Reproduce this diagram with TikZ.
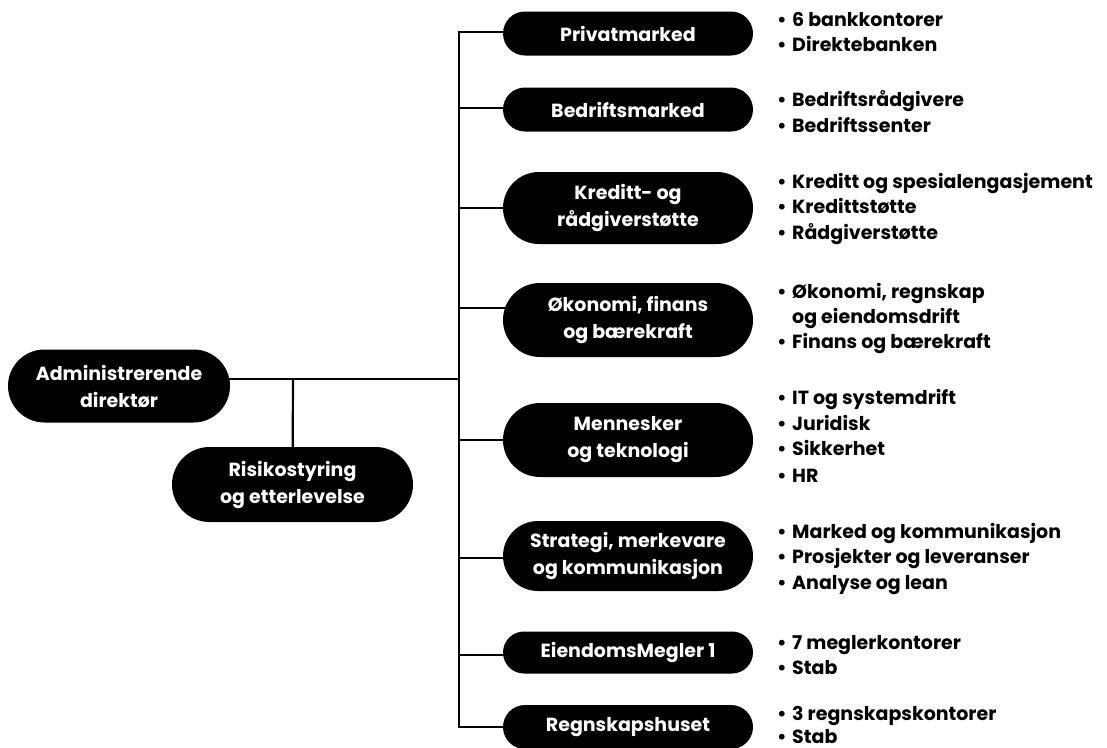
\documentclass[tikz,border=0pt]{standalone}
\usepackage{fontspec}
\setmainfont{Poppins}
\usetikzlibrary{backgrounds}
\newcommand\blitem[3]{\node[bul] (#1) at (777,#2) {\makebox[15pt][l]{•}#3};}
\begin{document}
\begin{tikzpicture}[x=1pt,y=-1pt,
  conn/.style={line width=2.2pt,draw=black,line join=miter},
  unit/.style={fill=black,text=white,align=center,inner sep=0pt,
    font=\fontsize{19}{27}\selectfont\bfseries},
  one/.style={unit,minimum width=250pt,minimum height=44pt,rounded corners=22pt},
  two/.style={unit,minimum width=250pt,minimum height=72pt,rounded corners=36pt},
  bul/.style={anchor=base west,inner sep=0pt,font=\fontsize{19}{25}\selectfont\bfseries}]
\useasboundingbox (0,0) rectangle (1107,747);
% left side
\node[unit,minimum width=222pt,minimum height=73pt,rounded corners=36.5pt] (admin) at (119,386) {Administrerende\\direktør};
\node[unit,minimum width=241pt,minimum height=75pt,rounded corners=37.5pt] (risk) at (292.5,484.5) {Risikostyring\\og etterlevelse};
% right side units
\node[one] (priv) at (628,33.5) {Privatmarked};
\node[one] (bedr) at (628,109.5) {Bedriftsmarked};
\node[two] (kred) at (628,208) {Kreditt- og\\rådgiverstøtte};
\node[two,minimum height=74pt,rounded corners=37pt] (okon) at (628,320) {Økonomi, finans\\og bærekraft};
\node[two,minimum height=74pt,rounded corners=37pt] (menn) at (628,440) {Mennesker\\og teknologi};
\node[two,minimum height=70pt,rounded corners=35pt] (strat) at (628,556) {Strategi, merkevare\\og kommunikasjon};
\node[one,minimum height=42pt,rounded corners=21pt] (eien) at (628,652.5) {EiendomsMegler 1};
\node[one] (regn) at (628,727) {Regnskapshuset};
% trunk coordinates
\coordinate (t1) at (459,32);
\coordinate (t2) at (459,108);
\coordinate (t3) at (459,208);
\coordinate (t4) at (459,308);
\coordinate (ta) at (459,379);
\coordinate (t5) at (459,440);
\coordinate (t6) at (459,558);
\coordinate (t7) at (459,655);
\coordinate (t8) at (459,727);
\coordinate (rj) at (293,379);
\begin{scope}[on background layer]
\draw[conn] (priv.center |- t1) -- (t1) -- (t8) -- (regn.center |- t8);
\draw[conn] (t2) -- (bedr.center |- t2);
\draw[conn] (t3) -- (kred.center |- t3);
\draw[conn] (t4) -- (okon.center |- t4);
\draw[conn] (t5) -- (menn.center |- t5);
\draw[conn] (t6) -- (strat.center |- t6);
\draw[conn] (t7) -- (eien.center |- t7);
\draw[conn] (admin.center |- ta) -- (ta);
\draw[conn] (rj) -- (risk.center);
\end{scope}
% bullet lists
\blitem{b11}{26}{6 bankkontorer}
\blitem{b12}{51}{Direktebanken}
\blitem{b21}{106}{Bedriftsrådgivere}
\blitem{b22}{132}{Bedriftssenter}
\blitem{b31}{188}{Kreditt og spesialengasjement}
\blitem{b32}{213}{Kredittstøtte}
\blitem{b33}{239}{Rådgiverstøtte}
\blitem{b41}{298}{Økonomi, regnskap}
\node[bul] (b42) at (792,323) {og eiendomsdrift};
\blitem{b43}{348}{Finans og bærekraft}
\blitem{b51}{404}{IT og systemdrift}
\blitem{b52}{430}{Juridisk}
\blitem{b53}{455}{Sikkerhet}
\blitem{b54}{482}{HR}
\blitem{b61}{538}{Marked og kommunikasjon}
\blitem{b62}{563}{Prosjekter og leveranser}
\blitem{b63}{589}{Analyse og lean}
\blitem{b71}{649}{7 meglerkontorer}
\blitem{b72}{674}{Stab}
\blitem{b81}{720}{3 regnskapskontorer}
\blitem{b82}{743}{Stab}
\end{tikzpicture}
\end{document}
